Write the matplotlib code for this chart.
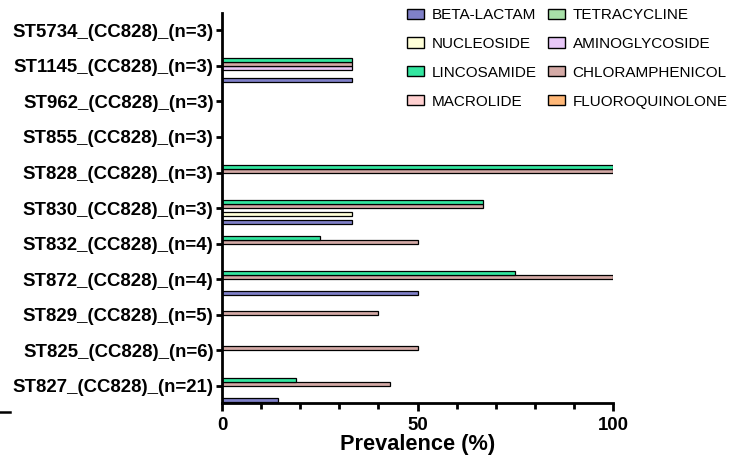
import numpy as np
import matplotlib.pyplot as plt
from matplotlib.lines import Line2D
from matplotlib.patches import Patch
from matplotlib.ticker import MultipleLocator

plt.rcParams["font.family"] = ["Liberation Sans", "DejaVu Sans"]

# categories, bottom to top
categories = [
    "ST827_(CC828)_(n=21)",
    "ST825_(CC828)_(n=6)",
    "ST829_(CC828)_(n=5)",
    "ST872_(CC828)_(n=4)",
    "ST832_(CC828)_(n=4)",
    "ST830_(CC828)_(n=3)",
    "ST828_(CC828)_(n=3)",
    "ST855_(CC828)_(n=3)",
    "ST962_(CC828)_(n=3)",
    "ST1145_(CC828)_(n=3)",
    "ST5734_(CC828)_(n=3)",
]

# prevalence (%) per class, same order as categories
beta_lactam = [14.3, 0, 0, 50, 0, 33.3, 0, 0, 0, 33.3, 0]
tetracycline = [0, 0, 0, 0, 0, 0, 0, 0, 0, 0, 0]
nucleoside = [0, 0, 0, 0, 0, 33.3, 0, 0, 0, 0, 0]
aminoglycoside = [0, 0, 0, 0, 0, 0, 0, 0, 0, 33.3, 0]
chloramphenicol = [42.9, 50, 40, 100, 50, 66.7, 100, 0, 0, 33.3, 0]
lincosamide = [19.0, 0, 0, 75, 25, 66.7, 100, 0, 0, 33.3, 0]
macrolide = [0, 0, 0, 0, 0, 0, 0, 0, 0, 0, 0]
fluoroquinolone = [0, 0, 0, 0, 0, 0, 0, 0, 0, 0, 0]

# drawing order inside a group, bottom to top
series = [
    ("BETA-LACTAM", beta_lactam, "#7f80c8"),
    ("TETRACYCLINE", tetracycline, "#a8e0a8"),
    ("NUCLEOSIDE", nucleoside, "#ffffd8"),
    ("AMINOGLYCOSIDE", aminoglycoside, "#e8c8f8"),
    ("CHLORAMPHENICOL", chloramphenicol, "#d4aaa6"),
    ("LINCOSAMIDE", lincosamide, "#33e6a0"),
    ("MACROLIDE", macrolide, "#ffd0d0"),
    ("FLUOROQUINOLONE", fluoroquinolone, "#ffb878"),
]
colors = {name: c for name, _, c in series}

# legend reads row by row: BETA, TETRA / NUCLEO, AMINO / LINCO, CHLORAM / MACRO, FLUORO
legend_order = ["BETA-LACTAM", "NUCLEOSIDE", "LINCOSAMIDE", "MACROLIDE",
                "TETRACYCLINE", "AMINOGLYCOSIDE", "CHLORAMPHENICOL", "FLUOROQUINOLONE"]

fig = plt.figure(figsize=(7.43, 4.59), dpi=100)
ax = fig.add_axes([222 / 743, 1 - 403 / 459, (613 - 222) / 743, (403 - 12.5) / 459])

y = np.arange(len(categories))
n = len(series)
h = 0.9 / n
for i, (name, vals, color) in enumerate(series):
    offs = -0.45 + h * (i + 0.5)
    vals = np.array(vals)
    mask = vals > 0
    ax.barh(y[mask] + offs, vals[mask], height=h, color=color,
            edgecolor="black", linewidth=0.9)

ax.set_xlim(0, 100)
ax.set_ylim(-0.48, 10.5)
ax.set_yticks(y)
ax.set_yticklabels(categories, fontsize=13.4, fontweight="bold")
ax.set_xticks([0, 50, 100])
ax.set_xticklabels(["0", "50", "100"], fontsize=13.4, fontweight="bold")
ax.xaxis.set_minor_locator(MultipleLocator(10))
ax.tick_params(axis="y", length=4, width=2, pad=2)
ax.tick_params(axis="x", which="major", length=6, width=2, pad=4)
ax.tick_params(axis="x", which="minor", length=4, width=2)
ax.set_xlabel("Prevalence (%)", fontsize=15.7, fontweight="bold", labelpad=0)

for s in ["top", "right"]:
    ax.spines[s].set_visible(False)
for s in ["left", "bottom"]:
    ax.spines[s].set_linewidth(2)

handles = [Patch(facecolor=colors[nm], edgecolor="black", linewidth=1) for nm in legend_order]
fig.legend(handles, legend_order, ncol=2, loc="upper left",
           bbox_to_anchor=(401 / 743, 1 - 2 / 459), frameon=False, borderaxespad=0,
           fontsize=11, handlelength=1.1, handleheight=0.65,
           labelspacing=0.97, columnspacing=0.72, handletextpad=0.52)

# small stray dash at the lower left
fig.add_artist(Line2D([0, 10 / 743], [1 - 412 / 459] * 2, color="black", linewidth=1.8))

fig.savefig("out.png", dpi=100)
